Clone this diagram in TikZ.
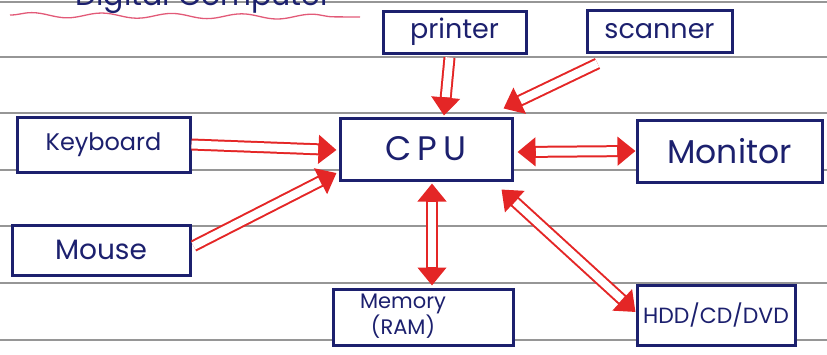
\documentclass[tikz,border=0pt]{standalone}
\usepackage{fontspec}
\setmainfont{Poppins}
\usetikzlibrary{arrows.meta,calc,decorations.pathmorphing}
\definecolor{ink}{RGB}{28,32,110}
\definecolor{pen}{RGB}{228,38,38}
\definecolor{rule}{RGB}{150,150,150}
\definecolor{wavy}{RGB}{226,90,120}
\tikzset{
  devbox/.style={draw=ink, fill=white, line width=3pt, text=ink, inner sep=0pt, font=\fontsize{24}{26}\selectfont},
  conn/.style={draw=pen, line width=12pt, -{Triangle[length=18pt,width=28pt]},
    postaction={draw=white, line width=8pt, -, shorten >=18.5pt}},
  biconn/.style={draw=pen, line width=12pt, {Triangle[length=18pt,width=28pt]}-{Triangle[length=18pt,width=28pt]},
    postaction={draw=white, line width=8pt, -, shorten >=18.5pt, shorten <=18.5pt}},
  paperline/.style={draw=rule, line width=1.2pt}
}
\begin{document}
\begin{tikzpicture}[x=1pt,y=-1pt]
\useasboundingbox (0,0) rectangle (827,354);
\begin{scope}
\clip (0,0) rectangle (827,354);
% ruled paper
\foreach \yy in {2,57,113,170,226,283,340}
  \draw[paperline] (0,\yy) -- (827,\yy);
% title (cut off at the top)
\node[anchor=base west, text=ink, font=\fontsize{30}{32}\selectfont, inner sep=0pt] (title) at (75,5) {Digital Computer};
\draw[wavy, line width=1.3pt, decorate, decoration={snake, segment length=70pt, amplitude=2.5pt}] (10,15) -- (360,17);
\end{scope}
% devices
\node[devbox, minimum width=143pt, minimum height=42pt, font=\fontsize{27}{29}\selectfont] (printer) at (454.5,32) {printer};
\node[devbox, minimum width=145pt, minimum height=42pt, font=\fontsize{27}{29}\selectfont] (scanner) at (659.5,31) {scanner};
\node[devbox, minimum width=172pt, minimum height=62pt, font=\fontsize{34}{36}\selectfont] (cpu) at (426,149) {C\,P\,U};
\node[devbox, minimum width=185pt, minimum height=62pt, font=\fontsize{33}{35}\selectfont] (monitor) at (729.5,151) {Monitor};
\node[devbox, minimum width=173pt, minimum height=55pt] (kbd) at (103.5,144.5) {Keyboard};
\node[devbox, minimum width=178pt, minimum height=50pt, font=\fontsize{28}{30}\selectfont] (mouse) at (101,250) {Mouse};
\node[devbox, minimum width=180pt, minimum height=56pt, font=\fontsize{21}{19}\selectfont] (mem) at (423,317) {\begin{tabular}{@{}c@{}}Memory\\(RAM)\end{tabular}\hspace*{40pt}};
\node[devbox, minimum width=158pt, minimum height=60pt, font=\fontsize{22}{24}\selectfont] (hdd) at (716,315) {HDD/CD/DVD};
% connectors
\draw[conn] (kbd.east) -- ($(cpu.west)+(-2,1)$);
\draw[conn] ($(mouse.east)+(2,-4)$) -- ($(cpu.west)+(-2,24)$);
\draw[conn] ($(printer.south)+(-5,3)$) -- ($(cpu.north)+(18,-1)$);
\draw[conn] ($(scanner.south west)+(12,10)$) -- ($(cpu.north east)+(-10,-8)$);
\draw[biconn] ($(cpu.east)+(4,3)$) -- (monitor.west);
\draw[biconn] ($(cpu.south)+(6,2)$) -- ($(mem.north)+(9,-2)$);
\draw[biconn] ($(cpu.south east)+(-12,8)$) -- ($(hdd.west)+(0,-3)$);
\end{tikzpicture}
\end{document}
